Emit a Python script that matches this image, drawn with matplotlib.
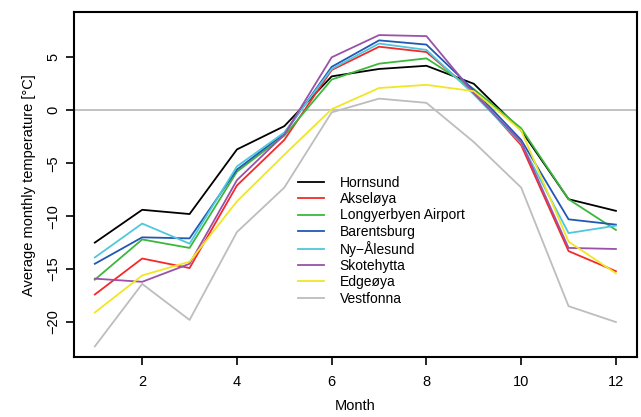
import matplotlib
matplotlib.use('Agg')
import matplotlib.pyplot as plt

plt.rcParams['font.family'] = ['Liberation Sans', 'DejaVu Sans']

months = list(range(1, 13))

stations = ['Hornsund', 'Akseløya', 'Longyerbyen Airport', 'Barentsburg',
            'Ny\u2212Ålesund', 'Skotehytta', 'Edgeøya', 'Vestfonna']
colors = ['#000000', '#f42a2a', '#3cb73c', '#2158b4',
          '#4fc8dc', '#9a52a8', '#f0e626', '#bdbdbd']

hornsund = [-12.5, -9.4, -9.8, -3.7, -1.5, 3.2, 3.9, 4.2, 2.5, -1.9, -8.4, -9.5]
akseloya = [-17.4, -14.0, -14.9, -7.1, -2.8, 3.8, 6.0, 5.5, 1.7, -3.3, -13.3, -15.2]
longyearbyen = [-16.0, -12.2, -13.0, -5.8, -2.4, 2.9, 4.4, 4.9, 2.0, -1.7, -8.4, -11.3]
barentsburg = [-14.5, -12.0, -12.1, -5.6, -2.2, 4.1, 6.6, 6.2, 1.9, -2.8, -10.3, -10.8]
ny_alesund = [-13.9, -10.7, -12.6, -5.3, -2.1, 3.9, 6.3, 5.7, 1.5, -3.1, -11.6, -10.9]
skotehytta = [-15.9, -16.2, -14.5, -6.6, -2.3, 5.0, 7.1, 7.0, 1.6, -3.0, -13.0, -13.1]
edgeoya = [-19.1, -15.6, -14.3, -8.6, -4.2, 0.1, 2.1, 2.4, 1.8, -1.9, -12.4, -15.4]
vestfonna = [-22.3, -16.4, -19.8, -11.5, -7.3, -0.2, 1.1, 0.7, -3.0, -7.3, -18.5, -20.0]

series = [hornsund, akseloya, longyearbyen, barentsburg,
          ny_alesund, skotehytta, edgeoya, vestfonna]

fig = plt.figure(figsize=(6.41, 4.17), dpi=100)
ax = fig.add_axes([0.1154, 0.1439, 0.878, 0.8266])

ax.axhline(0, color='#bdbdbd', lw=1.3, zorder=1)
for name, vals, col in zip(stations, series, colors):
    ax.plot(months, vals, color=col, lw=1.3, label=name, zorder=2)

ax.set_xlim(0.56, 12.44)
ax.set_ylim(-23.3, 9.25)
ax.set_xticks([2, 4, 6, 8, 10, 12])
ax.set_yticks([-20, -15, -10, -5, 0, 5])
ax.set_yticklabels(['\u221220', '\u221215', '\u221210', '\u22125', '0', '5'],
                   rotation=90, va='center')
ax.tick_params(direction='out', length=6, width=1.2, labelsize=10.5)
ax.tick_params(axis='x', pad=7)
ax.tick_params(axis='y', pad=4)
for s in ax.spines.values():
    s.set_linewidth(1.5)

ax.set_xlabel('Month', fontsize=10.5, labelpad=7)
ax.set_ylabel('Average monthly temperature [°C]', fontsize=10.5, labelpad=7)

ax.legend(loc='upper left', bbox_to_anchor=(0.398, 0.525), frameon=False,
          borderpad=0, borderaxespad=0, handlelength=1.9, handletextpad=1.1,
          labelspacing=0.16, fontsize=10)

fig.savefig('out.png', dpi=100)
